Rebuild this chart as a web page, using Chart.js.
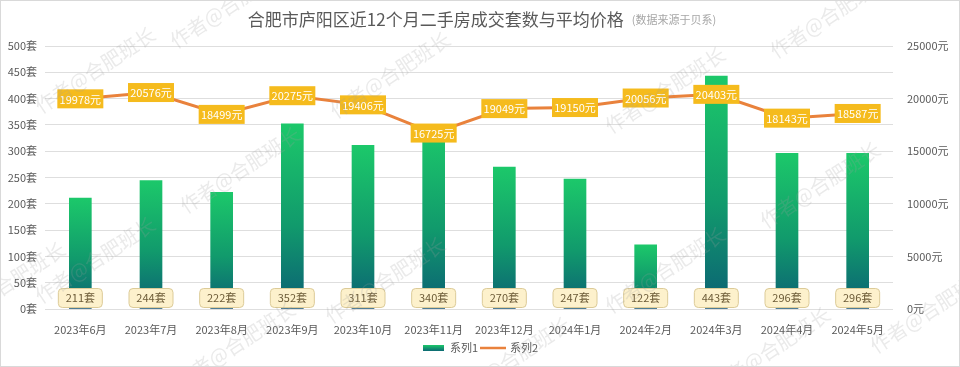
<!DOCTYPE html>
<html>
<head>
<meta charset="utf-8">
<script src="https://cdn.jsdelivr.net/npm/chart.js@4.4.1/dist/chart.umd.min.js"></script>
<style>
  html, body { margin: 0; padding: 0; background: #fff; }
  #wrap { width: 960px; height: 367px; position: relative; }
</style>
</head>
<body>
<div id="wrap"><canvas id="c"></canvas></div>
<script>
// data
const months = ["2023年6月", "2023年7月", "2023年8月", "2023年9月", "2023年10月", "2023年11月",
                "2023年12月", "2024年1月", "2024年2月", "2024年3月", "2024年4月", "2024年5月"];
const deals = [211, 244, 222, 352, 311, 340, 270, 247, 122, 443, 296, 296];
const prices = [19978, 20576, 18499, 20275, 19406, 16725, 19049, 19150, 20056, 20403, 18143, 18587];
const dealTicks = [0, 50, 100, 150, 200, 250, 300, 350, 400, 450, 500];
const priceTicks = [0, 5000, 10000, 15000, 20000, 25000];

const TITLE = "合肥市庐阳区近12个月二手房成交套数与平均价格";
const SUBTITLE = "(数据来源于贝系)";
const WATERMARK = "作者@合肥班长";
const FONT = '"Noto Sans CJK SC", "Noto Sans", sans-serif';

// green -> teal gradient, one per bar
function barGradient(ctx) {
  const chart = ctx.chart;
  if (!chart.chartArea || ctx.type !== "data") return "#17a86a";
  const y = chart.scales.y;
  const top = y.getPixelForValue(ctx.raw);
  const bottom = y.getPixelForValue(0);
  const g = chart.ctx.createLinearGradient(0, top, 0, bottom);
  g.addColorStop(0, "#1cc86a");
  g.addColorStop(0.55, "#119a6c");
  g.addColorStop(0.93, "#0c6873");
  g.addColorStop(1, "#145072");
  return g;
}

function roundRect(c, x, y, w, h, r) {
  c.beginPath();
  c.moveTo(x + r, y);
  c.lineTo(x + w - r, y);
  c.quadraticCurveTo(x + w, y, x + w, y + r);
  c.lineTo(x + w, y + h - r);
  c.quadraticCurveTo(x + w, y + h, x + w - r, y + h);
  c.lineTo(x + r, y + h);
  c.quadraticCurveTo(x, y + h, x, y + h - r);
  c.lineTo(x, y + r);
  c.quadraticCurveTo(x, y, x + r, y);
  c.closePath();
}

// title, labels, legend, watermark
const decor = {
  id: "decor",
  beforeDraw(chart) {
    const c = chart.ctx;
    c.save();
    c.fillStyle = "#fff";
    c.fillRect(0, 0, chart.width, chart.height);
    c.restore();
  },
  afterDatasetsDraw(chart) {
    const c = chart.ctx;
    const yZero = chart.scales.y.getPixelForValue(0);
    c.save();
    c.font = "11px " + FONT;
    c.textAlign = "center";
    c.textBaseline = "middle";

    // bar labels at the base
    chart.getDatasetMeta(0).data.forEach((bar, i) => {
      const w = 44, h = 19;
      const cy = yZero - 11;
      roundRect(c, bar.x - w / 2, cy - h / 2, w, h, 4);
      c.fillStyle = "#fdf1cc";
      c.fill();
      c.strokeStyle = "#dccb98";
      c.lineWidth = 1;
      c.stroke();
      c.fillStyle = "#6b5a36";
      c.fillText(deals[i] + "套", bar.x, cy);
    });

    // price labels on the line points
    chart.getDatasetMeta(1).data.forEach((pt, i) => {
      const w = 46, h = 19;
      c.fillStyle = "#f5bb1d";
      c.fillRect(pt.x - w / 2, pt.y - h / 2, w, h);
      c.fillStyle = "#ffffff";
      c.fillText(prices[i] + "元", pt.x, pt.y + 0.5);
    });
    c.restore();
  },
  afterDraw(chart) {
    const c = chart.ctx;
    c.save();

    // title
    c.textBaseline = "alphabetic";
    c.textAlign = "left";
    c.font = "17px " + FONT;
    const tw = c.measureText(TITLE).width;
    c.font = "11px " + FONT;
    const sw = c.measureText(SUBTITLE).width;
    const x0 = 482 - (tw + 8 + sw) / 2;
    c.font = "17px " + FONT;
    c.fillStyle = "#595959";
    c.fillText(TITLE, x0, 26);
    c.font = "11px " + FONT;
    c.fillStyle = "#a6a6a6";
    c.fillText(SUBTITLE, x0 + tw + 8, 24);

    // legend
    const ly = 348;
    c.font = "11px " + FONT;
    c.textBaseline = "middle";
    const lg = c.createLinearGradient(0, ly - 3, 0, ly + 3);
    lg.addColorStop(0, "#1cc86a");
    lg.addColorStop(1, "#0c6873");
    c.fillStyle = lg;
    c.fillRect(423, ly - 3, 21, 6);
    c.fillStyle = "#595959";
    c.fillText("系列1", 450, ly);
    c.strokeStyle = "#e9823c";
    c.lineWidth = 2.5;
    c.beginPath();
    c.moveTo(480, ly);
    c.lineTo(506, ly);
    c.stroke();
    c.fillText("系列2", 510, ly);

    // watermark
    const marks = [[95, 70], [390, 75], [665, 90], [830, 15], [230, 5], [240, 170], [95, 260],
                   [385, 280], [665, 270], [820, 185], [930, 310], [235, 345], [510, 360],
                   [770, 350], [5, 285]];
    c.font = "20px " + FONT;
    c.textAlign = "center";
    c.fillStyle = "rgba(160,160,160,0.22)";
    marks.forEach(([mx, my]) => {
      c.save();
      c.translate(mx, my);
      c.rotate(-0.58);
      c.fillText(WATERMARK, 0, 0);
      c.restore();
    });

    // frame
    c.strokeStyle = "#d9d9d9";
    c.lineWidth = 1;
    c.strokeRect(0.5, 0.5, chart.width - 1, chart.height - 1);
    c.restore();
  }
};

new Chart(document.getElementById("c"), {
  data: {
    labels: months,
    datasets: [
      {
        type: "bar",
        label: "系列1",
        data: deals,
        yAxisID: "y",
        backgroundColor: barGradient,
        barThickness: 22,
        order: 2
      },
      {
        type: "line",
        label: "系列2",
        data: prices,
        yAxisID: "y1",
        borderColor: "#e9823c",
        borderWidth: 3,
        pointRadius: 0,
        tension: 0,
        order: 1
      }
    ]
  },
  options: {
    responsive: true,
    maintainAspectRatio: false,
    animation: false,
    devicePixelRatio: 1,
    layout: { padding: { top: 46, left: 0, right: 0, bottom: 0 } },
    plugins: {
      legend: { display: false },
      title: { display: false },
      tooltip: { enabled: false }
    },
    scales: {
      x: {
        grid: { display: false },
        border: { display: false },
        ticks: { color: "#595959", font: { size: 11, family: FONT }, padding: 6, maxRotation: 0 },
        afterFit(s) { s.height = 58; }
      },
      y: {
        position: "left",
        min: 0,
        max: 500,
        afterBuildTicks(s) { s.ticks = dealTicks.map(v => ({ value: v })); },
        ticks: { color: "#595959", font: { size: 11, family: FONT }, padding: 8, callback: v => v + "套" },
        grid: { color: "#dedede", drawTicks: false },
        border: { display: false },
        afterFit(s) { s.width = 45; }
      },
      y1: {
        position: "right",
        min: 0,
        max: 25000,
        afterBuildTicks(s) { s.ticks = priceTicks.map(v => ({ value: v })); },
        ticks: { color: "#595959", font: { size: 11, family: FONT }, padding: 14, callback: v => v + "元" },
        grid: { display: false, drawTicks: false },
        border: { display: false },
        afterFit(s) { s.width = 67; }
      }
    }
  },
  plugins: [decor]
});
</script>
</body>
</html>
